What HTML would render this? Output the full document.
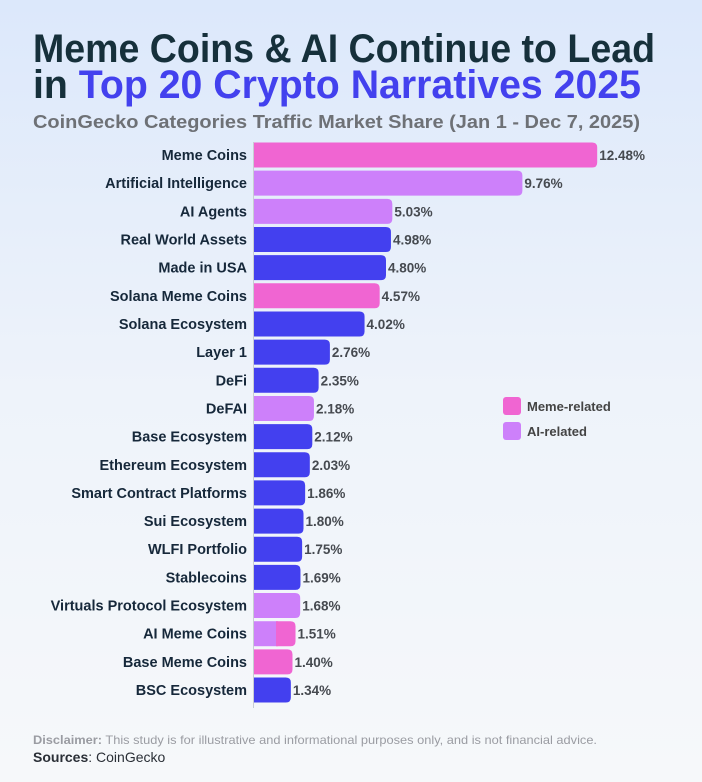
<!DOCTYPE html>
<html><head><meta charset="utf-8"><style>
html,body{margin:0;padding:0;width:702px;height:782px;overflow:hidden}
body{background:linear-gradient(180deg,#dce8fb 0%,#eef3fa 50%,#f6f8fa 100%);font-family:"Liberation Sans",sans-serif}
</style></head><body>
<svg width="702" height="782" xmlns="http://www.w3.org/2000/svg" font-family="Liberation Sans, sans-serif">
<text x="33" y="62" font-size="40" font-weight="bold" fill="#16303b" textLength="622" lengthAdjust="spacingAndGlyphs">Meme Coins &amp; AI Continue to Lead</text>
<text x="33" y="98" font-size="40" font-weight="bold" fill="#16303b" textLength="608" lengthAdjust="spacingAndGlyphs">in <tspan fill="#4341ee">Top 20 Crypto Narratives 2025</tspan></text>
<text x="33" y="128" font-size="18" font-weight="bold" fill="#6e7176" textLength="607" lengthAdjust="spacingAndGlyphs">CoinGecko Categories Traffic Market Share (Jan 1 - Dec 7, 2025)</text>
<line x1="253.5" y1="142" x2="253.5" y2="708" stroke="#c8ccd4" stroke-width="1"/>
<g id="bars"></g>
<rect x="503" y="397" width="18" height="18" rx="3" fill="#f065d2"/>
<text x="527" y="411" font-size="13" font-weight="bold" fill="#444">Meme-related</text>
<rect x="503" y="422" width="18" height="18" rx="3" fill="#cd80fa"/>
<text x="527" y="436" font-size="13" font-weight="bold" fill="#444">AI-related</text>
<text x="33" y="744" font-size="12" fill="#9a9ca2" textLength="564" lengthAdjust="spacingAndGlyphs"><tspan font-weight="bold">Disclaimer:</tspan> This study is for illustrative and informational purposes only, and is not financial advice.</text>
<text x="33" y="762" font-size="14" fill="#2a2f36"><tspan font-weight="bold">Sources</tspan>: CoinGecko</text>
</svg>
<script>
const d=[["Meme Coins",12.48,"m"],["Artificial Intelligence",9.76,"a"],["AI Agents",5.03,"a"],["Real World Assets",4.98,"b"],["Made in USA",4.80,"b"],["Solana Meme Coins",4.57,"m"],["Solana Ecosystem",4.02,"b"],["Layer 1",2.76,"b"],["DeFi",2.35,"b"],["DeFAI",2.18,"a"],["Base Ecosystem",2.12,"b"],["Ethereum Ecosystem",2.03,"b"],["Smart Contract Platforms",1.86,"b"],["Sui Ecosystem",1.80,"b"],["WLFI Portfolio",1.75,"b"],["Stablecoins",1.69,"b"],["Virtuals Protocol Ecosystem",1.68,"a"],["AI Meme Coins",1.51,"x"],["Base Meme Coins",1.40,"m"],["BSC Ecosystem",1.34,"b"]];
const C={m:"#f065d2",a:"#cd80fa",b:"#4340ef"};
let s="";
d.forEach((r,i)=>{const cy=155+i*28.16,y=cy-12.5,w=r[1]*27.5,x=254;
const p=(col,x0,x1)=>`<path d="M${x0} ${y}H${x1-5}Q${x1} ${y} ${x1} ${y+5}V${y+20}Q${x1} ${y+25} ${x1-5} ${y+25}H${x0}Z" fill="${col}"/>`;
if(r[2]=="x"){s+=`<rect x="${x}" y="${y}" width="24" height="25" fill="${C.a}"/>`+p(C.m,x+22,x+w);}
else s+=p(C[r[2]],x,x+w);
s+=`<text x="247" y="${cy+5}" font-size="14.5" font-weight="bold" fill="#16283a" text-anchor="end">${r[0]}</text>`;
s+=`<text x="${x+w+2}" y="${cy+5}" font-size="13.5" font-weight="bold" fill="#464a50">${r[1].toFixed(2)}%</text>`;});
document.getElementById("bars").innerHTML=s;
</script>
</body></html>
